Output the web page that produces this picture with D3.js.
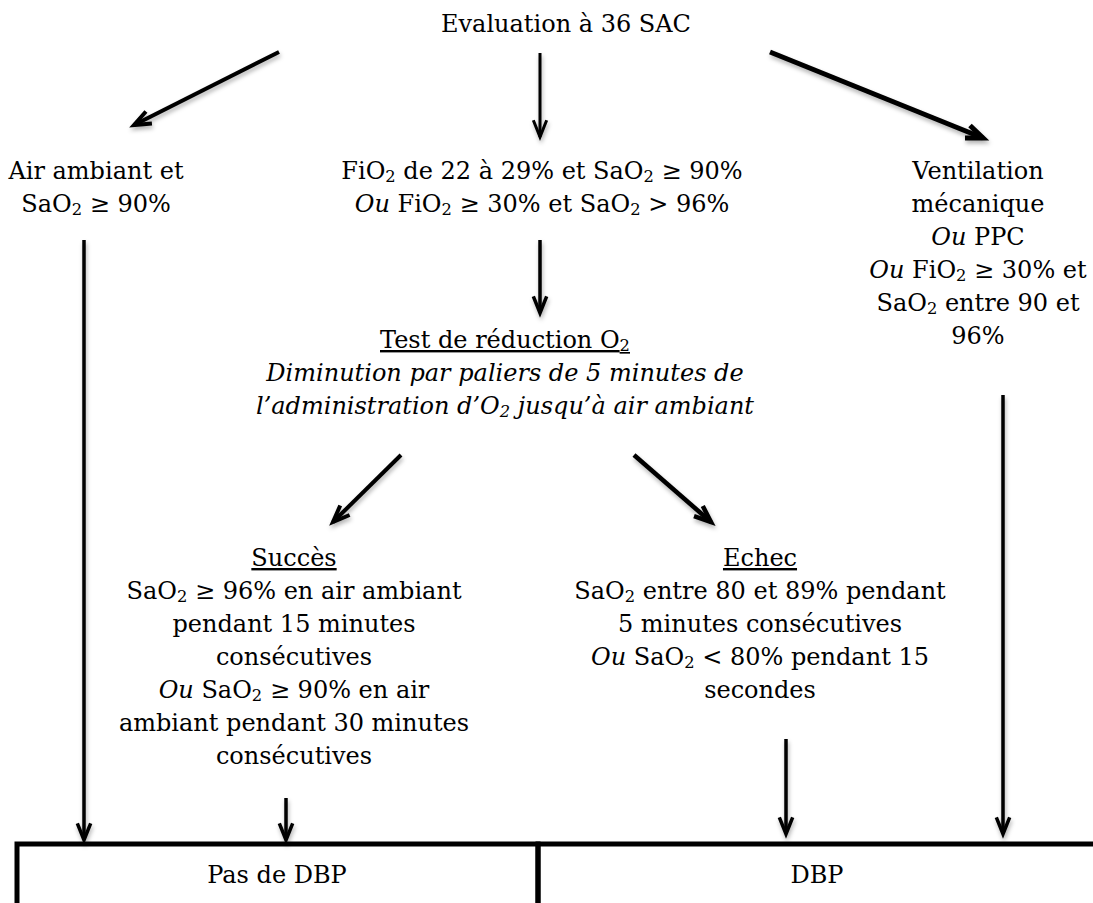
<!DOCTYPE html>
<html><head><meta charset="utf-8">
<script src="https://cdn.jsdelivr.net/npm/d3@7"></script>
<style>body{margin:0;background:#fff}svg{display:block}</style>
</head><body>
<script>
// ---- content (text of each node; {..} = subscript, *..* = italic, _.._ = underline) ----
const titleLines = ["Evaluation à 36 SAC"];
const leftLines = ["Air ambiant et", "SaO{2} ≥ 90%"];
const midLines = ["FiO{2} de 22 à 29% et SaO{2} ≥ 90%", "*Ou* FiO{2} ≥ 30% et SaO{2} > 96%"];
const rightLines = ["Ventilation", "mécanique", "*Ou* PPC", "*Ou* FiO{2} ≥ 30% et", "SaO{2} entre 90 et", "96%"];
const testLines = ["_Test de réduction O{2}_", "*Diminution par paliers de 5 minutes de*", "*l’administration d’O{2} jusqu’à air ambiant*"];
const successLines = ["_Succès_", "SaO{2} ≥ 96% en air ambiant", "pendant 15 minutes", "consécutives", "*Ou* SaO{2} ≥ 90% en air", "ambiant pendant 30 minutes", "consécutives"];
const failLines = ["_Echec_", "SaO{2} entre 80 et 89% pendant", "5 minutes consécutives", "*Ou* SaO{2} < 80% pendant 15", "secondes"];
const outcomeLabels = ["Pas de DBP", "DBP"];

const W = 1093, H = 903;
const svg = d3.select("body").append("svg").attr("width", W).attr("height", H);
const FONT = "'DejaVu Serif', 'Liberation Serif', serif";
const FS = 24, LH = 33;

// soft shadow under the arrows
const defs = svg.append("defs");
const f = defs.append("filter").attr("id", "shadow").attr("x", "-20%").attr("y", "-20%").attr("width", "140%").attr("height", "140%");
f.append("feDropShadow").attr("dx", 1).attr("dy", 3).attr("stdDeviation", 2).attr("flood-color", "#000").attr("flood-opacity", 0.3);

// layout scales (pixel mapping of layout units)
const x = d3.scaleLinear().domain([0, 1093]).range([0, W]);
const y = d3.scaleLinear().domain([0, 903]).range([0, H]);

function parse(line) {
  const out = []; let i = 0, it = false, ul = false, buf = "";
  const push = (sub) => { if (buf) out.push({t: buf, it, ul, sub}); buf = ""; };
  while (i < line.length) {
    const c = line[i];
    if (c === "*") { push(false); it = !it; i++; }
    else if (c === "_") { push(false); ul = !ul; i++; }
    else if (c === "{") { push(false); const j = line.indexOf("}", i); buf = line.slice(i + 1, j); push(true); i = j + 1; }
    else { buf += c; i++; }
  }
  push(false);
  return out;
}

function block(lines, cx, y0) {
  lines.forEach((ln, k) => {
    const t = svg.append("text").attr("x", x(cx)).attr("y", y(y0 + k * LH))
      .attr("text-anchor", "middle").attr("font-family", FONT).attr("font-size", FS).attr("fill", "#000");
    parse(ln).forEach(seg => {
      const ts = t.append("tspan").text(seg.t);
      if (seg.it) ts.attr("font-style", "italic");
      if (seg.ul) ts.attr("text-decoration", "underline");
      if (seg.sub) ts.attr("font-size", FS * 0.68).attr("baseline-shift", "-18%");
    });
  });
}

block(titleLines, 566, 32);
block(leftLines, 96, 179);
block(midLines, 542, 179);
block(rightLines, 978, 179);
block(testLines, 505, 348);
block(successLines, 294, 566);
block(failLines, 760, 566);

// arrows: [x1,y1,x2,y2,strokeWidth]
const arrows = [
  [279, 52, 134, 125, 4],
  [540, 53, 540, 137, 3],
  [770, 52, 983, 138, 5],
  [84, 240, 84, 840, 3.5],
  [540, 240, 540, 313, 3.5],
  [1003, 395, 1003, 834, 3.5],
  [401, 455, 333, 522, 4],
  [634, 455, 711, 522, 4.5],
  [286, 798, 286, 840, 3.5],
  [786, 739, 786, 834, 3.5]
];
const g = svg.append("g").attr("stroke", "#000").attr("fill", "none").attr("stroke-linecap", "butt")
  .attr("filter", "url(#shadow)");
arrows.forEach(([x1, y1, x2, y2, sw]) => {
  g.append("line").attr("x1", x(x1)).attr("y1", y(y1)).attr("x2", x(x2)).attr("y2", y(y2)).attr("stroke-width", sw);
  const ang = Math.atan2(y2 - y1, x2 - x1), L = 18, a = 0.38;
  const p1 = [x2 - L * Math.cos(ang - a), y2 - L * Math.sin(ang - a)];
  const p2 = [x2 - L * Math.cos(ang + a), y2 - L * Math.sin(ang + a)];
  g.append("path").attr("d", `M${x(p1[0])},${y(p1[1])}L${x(x2)},${y(y2)}L${x(p2[0])},${y(p2[1])}`)
    .attr("stroke-width", sw).attr("stroke-linejoin", "miter");
});

// outcome boxes
const bx = d3.scaleBand().domain(outcomeLabels).range([x(17), x(1059)]).paddingInner(0);
const boxTop = y(844);
outcomeLabels.forEach((lab, i) => {
  svg.append("rect").attr("x", bx(lab)).attr("y", boxTop).attr("width", lab === "DBP" ? bx.bandwidth() + 60 : bx.bandwidth()).attr("height", 120)
    .attr("fill", "none").attr("stroke", "#000").attr("stroke-width", 5);
});
svg.append("text").attr("x", x(277)).attr("y", y(883)).attr("text-anchor", "middle")
  .attr("font-family", FONT).attr("font-size", FS).text(outcomeLabels[0]);
svg.append("text").attr("x", x(817)).attr("y", y(883)).attr("text-anchor", "middle")
  .attr("font-family", FONT).attr("font-size", FS).text(outcomeLabels[1]);
</script>
</body></html>
